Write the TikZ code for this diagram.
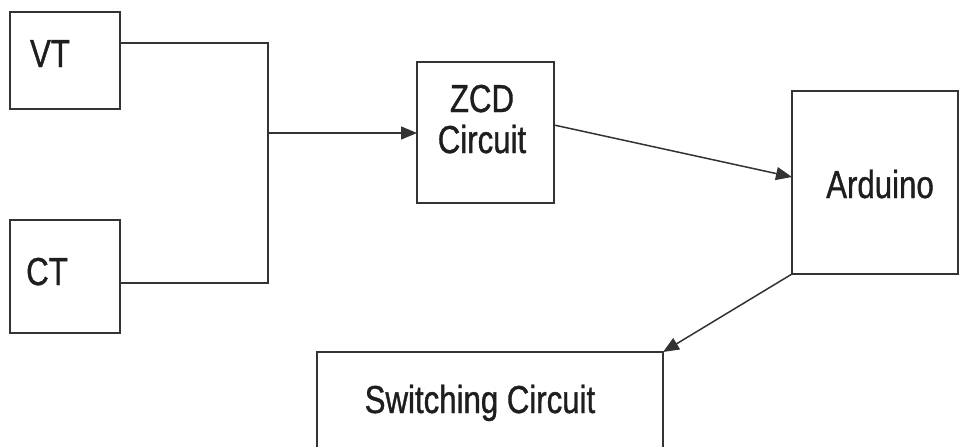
\documentclass[tikz,border=0pt]{standalone}
\usepackage{fontspec}
\setmainfont[FakeStretch=0.8,FakeBold=0.9]{Liberation Sans}
\usetikzlibrary{arrows.meta}
\definecolor{linec}{HTML}{333333}
\definecolor{textc}{HTML}{1E1E1E}
\tikzset{
  blk/.style={draw=linec, line width=1.5pt, inner sep=0pt, outer sep=0pt, anchor=north west, fill=none},
  lbl/.style={text=textc, inner sep=0pt, anchor=base, font=\fontsize{39}{40}\selectfont},
  conn/.style={draw=linec, line width=1.5pt},
  arr/.style={conn, -{Triangle[length=16pt,width=13pt]}}
}
\begin{document}
\begin{tikzpicture}[x=1pt,y=-1pt]
\useasboundingbox (0,0) rectangle (959,447);
\clip (0,0) rectangle (959,447);
\fill[white] (0,0) rectangle (959,447);
% boxes
\node[blk, minimum width=110pt, minimum height=97pt] (vt) at (10,12) {};
\node[blk, minimum width=110pt, minimum height=113pt] (ct) at (10,220) {};
\node[blk, minimum width=137pt, minimum height=141pt] (zcd) at (417,62) {};
\node[blk, minimum width=166pt, minimum height=183pt] (ard) at (792,91) {};
\node[blk, minimum width=346pt, minimum height=130pt] (sw) at (317,352) {};
% labels
\node[lbl] (vtl) at (50,67) {VT};
\node[lbl] (ctl) at (47,285) {CT};
\node[lbl] (zcdl) at (482,112) {ZCD};
\node[lbl] (zcdl2) at (482,153) {Circuit};
\node[lbl] (ardl) at (880,198) {Arduino};
\node[lbl] (swl) at (480,413) {Switching Circuit};
% connector points
\coordinate (vtp) at (120,43);
\coordinate (ctp) at (120,283);
\coordinate (jn) at (268,133);
\coordinate (zout) at (554,125);
\coordinate (ain) at (792,177);
% connectors
\draw[conn] (vtp) -| (jn) |- (ctp);
\draw[arr] (jn) -- (zcd.west |- jn);
\draw[arr] (zout) -- (ain);
\draw[arr] (ard.south west) -- (sw.north east);
\end{tikzpicture}
\end{document}
